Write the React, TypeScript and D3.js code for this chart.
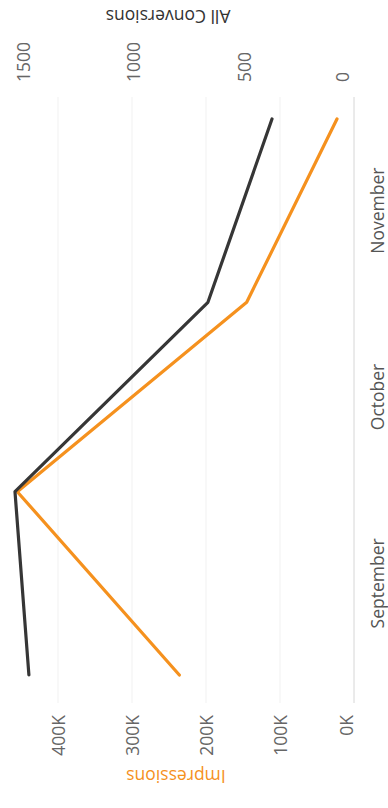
import React from 'react';
import * as d3 from 'd3';

// Monthly figures: one point at each month boundary
const pointDates = ['2019-09-01', '2019-10-01', '2019-11-01', '2019-12-01'];
const months = ['September', 'October', 'November'];
const impressions = [236000, 455000, 145000, 23000];
const conversions = [1471, 1534, 661, 371];
const impressionTicks = [0, 100000, 200000, 300000, 400000];
const conversionTicks = [0, 500, 1000, 1500];

// Chart is laid out landscape, then turned a quarter turn inside the portrait svg
const W = 808;
const H = 388;
const FONT = "'Open Sans', 'DejaVu Sans', sans-serif";
const ORANGE = '#f5911e';
const DARK = '#363636';

export default function App() {
  const parse = d3.utcParse('%Y-%m-%d');
  const dates = pointDates.map((d) => parse(d) as Date);

  const plotLeft = 105;
  const plotRight = 711;
  const baseline = 354;

  const x = d3.scaleUtc().domain([dates[0], dates[dates.length - 1]]).range([133, 689]);
  const yImp = d3.scaleLinear().domain([0, 400000]).range([baseline, 58]);
  const yConv = d3.scaleLinear().domain([0, 1500]).range([baseline, 22.5]);

  const impLine = d3
    .line<number>()
    .x((_, i) => x(dates[i]))
    .y((v) => yImp(v));
  const convLine = d3
    .line<number>()
    .x((_, i) => x(dates[i]))
    .y((v) => yConv(v));

  const monthMid = months.map(
    (_, i) => new Date((dates[i].getTime() + dates[i + 1].getTime()) / 2)
  );

  const fmtK = (v: number) => `${v / 1000}K`;

  return (
    <svg
      width={H}
      height={W}
      style={{ position: 'absolute', left: 0, top: 0, background: '#fff' }}
    >
      <rect width={H} height={W} fill="#fff" />
      <g transform={`translate(0,${W}) rotate(-90)`}>
        {/* gridlines for the impressions axis */}
        {impressionTicks
          .filter((t) => t > 0)
          .map((t) => (
            <line
              key={`g${t}`}
              x1={plotLeft}
              x2={plotRight}
              y1={yImp(t)}
              y2={yImp(t)}
              stroke="#f1f1f1"
              strokeWidth={1}
            />
          ))}
        {/* baseline */}
        <line
          x1={plotLeft}
          x2={plotRight}
          y1={baseline}
          y2={baseline}
          stroke="#d6d6d6"
          strokeWidth={1}
        />

        {/* series */}
        <path
          d={impLine(impressions) ?? ''}
          fill="none"
          stroke={ORANGE}
          strokeWidth={3.2}
          strokeLinejoin="round"
          strokeLinecap="round"
        />
        <path
          d={convLine(conversions) ?? ''}
          fill="none"
          stroke={DARK}
          strokeWidth={3.2}
          strokeLinejoin="round"
          strokeLinecap="round"
        />

        {/* month labels */}
        {months.map((m, i) => (
          <text
            key={m}
            x={x(monthMid[i])}
            y={377}
            textAnchor="middle"
            dominantBaseline="central"
            fontFamily={FONT}
            fontSize={17.5}
            fill="#555"
          >
            {m}
          </text>
        ))}

        {/* impressions axis (left) */}
        {impressionTicks.map((t) => (
          <text
            key={`i${t}`}
            x={93}
            y={Math.min(yImp(t), baseline - 8)}
            textAnchor="end"
            dominantBaseline="central"
            fontFamily={FONT}
            fontSize={17.5}
            fill="#666"
          >
            {fmtK(t)}
          </text>
        ))}
        <text
          transform={`translate(31,176) rotate(-90)`}
          textAnchor="middle"
          dominantBaseline="central"
          fontFamily={FONT}
          fontSize={17.5}
          fill={ORANGE}
        >
          Impressions
        </text>

        {/* conversions axis (right) */}
        {conversionTicks.map((t) => (
          <text
            key={`c${t}`}
            x={726}
            y={Math.min(yConv(t), baseline - 12)}
            textAnchor="start"
            dominantBaseline="central"
            fontFamily={FONT}
            fontSize={17.5}
            fill="#666"
          >
            {t}
          </text>
        ))}
        <text
          transform={`translate(791,168) rotate(-90)`}
          textAnchor="middle"
          dominantBaseline="central"
          fontFamily={FONT}
          fontSize={17.5}
          fill="#333"
        >
          All Conversions
        </text>
      </g>
    </svg>
  );
}
